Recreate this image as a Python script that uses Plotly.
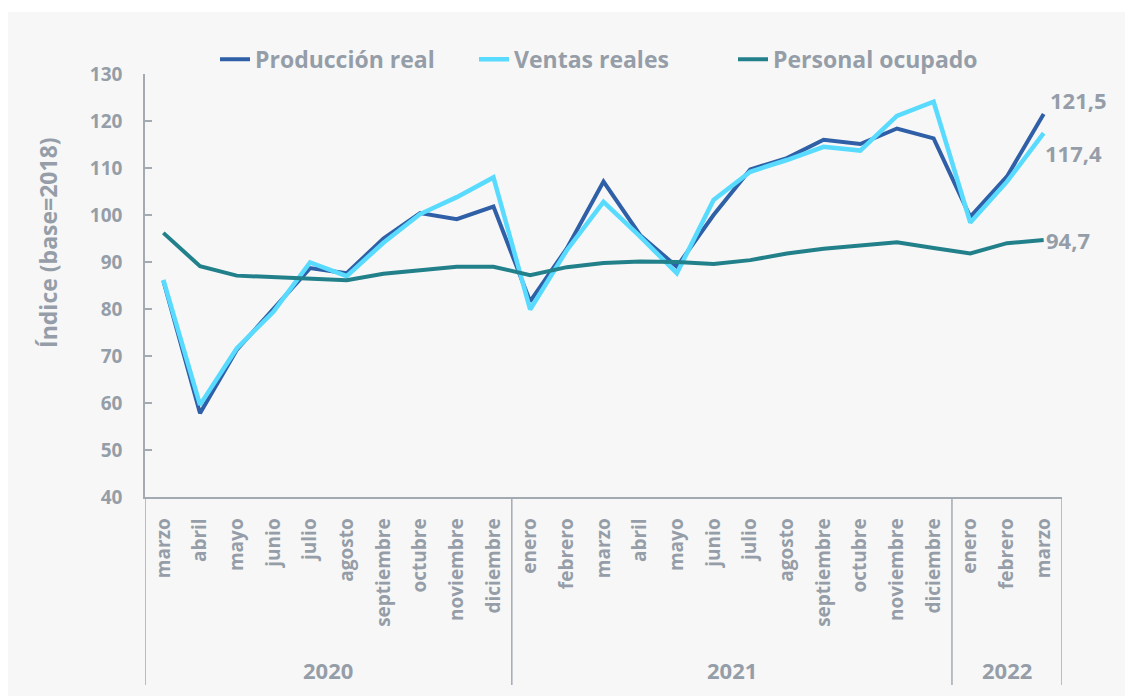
import plotly.graph_objects as go

years = ["2020", "2021", "2022"]
months_per_year = [10, 12, 3]
months = ["marzo", "abril", "mayo", "junio", "julio", "agosto", "septiembre", "octubre",
          "noviembre", "diciembre",
          "enero", "febrero", "marzo", "abril", "mayo", "junio", "julio", "agosto",
          "septiembre", "octubre", "noviembre", "diciembre",
          "enero", "febrero", "marzo"]
produccion = [86.0, 57.8, 71.3, 80.1, 88.7, 87.6, 95.0, 100.4, 99.1, 101.8,
              81.6, 92.9, 107.1, 95.7, 89.0, 100.0, 109.7, 112.1, 116.0, 115.1, 118.4, 116.3,
              99.6, 108.2, 121.5]
ventas = [86.2, 59.6, 71.6, 79.4, 89.9, 87.0, 94.1, 100.2, 103.8, 108.0,
          79.9, 92.5, 102.8, 95.4, 87.6, 103.2, 109.2, 111.7, 114.5, 113.7, 121.1, 124.1,
          98.4, 107.1, 117.4]
personal = [96.2, 89.1, 87.1, 86.7, 86.4, 86.1, 87.5, 88.2, 89.0, 89.0,
            87.2, 88.9, 89.8, 90.1, 90.0, 89.6, 90.4, 91.8, 92.8, 93.5, 94.2, 93.0,
            91.8, 94.0, 94.7]
series_names = ["Producción real", "Ventas reales", "Personal ocupado"]
y_ticks = [40, 50, 60, 70, 80, 90, 100, 110, 120, 130]

GRAY = "#959ea8"
AXIS = "#a3aab2"
BG = "#f7f7f7"
FONT = "Open Sans"
colors = ["#2f5fa6", "#58dbfe", "#22808b"]
widths = [4, 4.5, 4]

idx = list(range(len(months)))

fig = go.Figure()
for name, vals, c, w in zip(series_names, [produccion, ventas, personal], colors, widths):
    fig.add_trace(go.Scatter(x=idx, y=vals, mode="lines", name=name,
                             line=dict(color=c, width=w)))

# end labels
last = idx[-1]
lab_font = dict(family=FONT, size=22, color=GRAY, weight="bold")
for vals, xs, ys in [(produccion, 4, 14), (ventas, -1, -20), (personal, 0, 0)]:
    fig.add_annotation(x=last, y=vals[-1], text=f"{vals[-1]:.1f}".replace(".", ","),
                       xanchor="left", yanchor="middle", xshift=xs, yshift=ys, showarrow=False,
                       font=lab_font)

# y-axis title
fig.add_annotation(x=-0.1058, y=0.603, xref="paper", yref="paper", text="Índice (base=2018)",
                   textangle=-90, showarrow=False, xanchor="center", yanchor="middle",
                   font=dict(family=FONT, size=23, color=GRAY, weight="bold"))

# year groups: dividers and labels
start = 0
bounds = [-0.5]
for yr, n in zip(years, months_per_year):
    end = start + n
    fig.add_annotation(x=(start + end - 1) / 2, y=-0.409, xref="x", yref="paper", text=yr,
                       showarrow=False, xanchor="center", yanchor="middle",
                       font=dict(family=FONT, size=22, color=GRAY, weight="bold"))
    bounds.append(end - 0.5)
    start = end
for b in bounds:
    fig.add_shape(type="line", xref="x", yref="paper", x0=b, x1=b, y0=0, y1=-0.4444,
                  line=dict(color=AXIS, width=1.5), layer="above")

# panel background
fig.add_shape(type="rect", xref="paper", yref="paper", x0=-0.1494, x1=1.2, y0=-1, y1=1.1466,
              fillcolor=BG, line=dict(width=0), layer="below")

fig.update_layout(
    width=1133, height=696,
    margin=dict(l=137, r=79, t=66, b=207),
    paper_bgcolor="white", plot_bgcolor=BG,
    font=dict(family=FONT, color=GRAY),
    showlegend=True,
    legend=dict(orientation="h", x=0.5, xanchor="center", y=1.035, yanchor="middle",
                font=dict(family=FONT, size=23, color=GRAY, weight="bold"),
                bgcolor="rgba(0,0,0,0)", entrywidth=214, entrywidthmode="pixels"),
    xaxis=dict(range=[-0.5, len(months) - 0.5], tickvals=idx, ticktext=months,
               showgrid=False, zeroline=False, showline=True, linecolor=AXIS, linewidth=1.5,
               ticks="", tickangle=-90, ticklabelstandoff=12,
               tickfont=dict(family=FONT, size=19, color=GRAY, weight="bold")),
    yaxis=dict(range=[40, 130], tickvals=y_ticks, showgrid=False, zeroline=False,
               showline=True, linecolor=AXIS, linewidth=1.5, ticks="inside", ticklen=7,
               tickcolor=AXIS, tickwidth=1.5, ticklabelstandoff=17,
               tickfont=dict(family=FONT, size=19, color=GRAY, weight="bold")),
)

fig.write_html("out.html")
